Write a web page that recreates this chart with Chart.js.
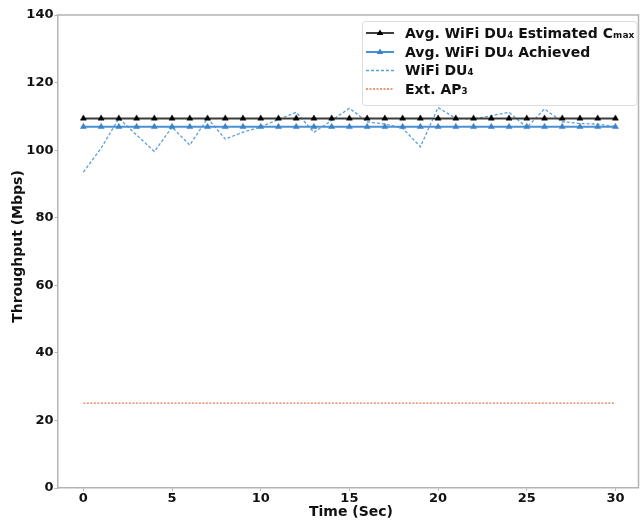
<!DOCTYPE html>
<html>
<head>
<meta charset="utf-8">
<script src="https://cdn.jsdelivr.net/npm/chart.js@4.4.1/dist/chart.umd.min.js"></script>
<style>
html,body{margin:0;padding:0;background:#fff;overflow:hidden;}
#wrap{position:relative;width:643px;height:523px;}
</style>
</head>
<body>
<div id="wrap"><canvas id="c"></canvas></div>
<script>
const timeSec = [0,1,2,3,4,5,6,7,8,9,10,11,12,13,14,15,16,17,18,19,20,21,22,23,24,25,26,27,28,29,30];
const avgEstCmax = [109.4,109.4,109.4,109.4,109.4,109.4,109.4,109.4,109.4,109.4,109.4,109.4,109.4,109.4,109.4,109.4,109.4,109.4,109.4,109.4,109.4,109.4,109.4,109.4,109.4,109.4,109.4,109.4,109.4,109.4,109.4];
const avgAchieved = [106.9,106.9,106.9,106.9,106.9,106.9,106.9,106.9,106.9,106.9,106.9,106.9,106.9,106.9,106.9,106.9,106.9,106.9,106.9,106.9,106.9,106.9,106.9,106.9,106.9,106.9,106.9,106.9,106.9,106.9,106.9];
const wifiDU4 = [93.5,100.6,109.4,104.5,99.6,106.8,101.5,109.4,103.3,105.3,106.9,109.1,111.2,105.3,108.8,112.4,108.4,107.7,106.5,101.0,112.6,109.4,109.2,110.2,111.2,106.7,112.2,108.4,107.9,107.7,106.9];
const extAP3 = [25.1,25.1,25.1,25.1,25.1,25.1,25.1,25.1,25.1,25.1,25.1,25.1,25.1,25.1,25.1,25.1,25.1,25.1,25.1,25.1,25.1,25.1,25.1,25.1,25.1,25.1,25.1,25.1,25.1,25.1,25.1];
const seriesLabels = ['Avg. WiFi DU\u2084 Estimated C\u2098\u2090\u2093','Avg. WiFi DU\u2084 Achieved','WiFi DU\u2084','Ext. AP\u2083'];
const xTickValues = [0,5,10,15,20,25,30];
const yTickValues = [0,20,40,60,80,100,120,140];
const xTitle = 'Time (Sec)';
const yTitle = 'Throughput (Mbps)';

const FONT = 'DejaVu Sans';
const pts = arr => timeSec.map((t,i)=>({x:t,y:arr[i]}));
const spine = '#b4b4b4';

const legendPlugin = {
  id:'customLegend',
  afterDraw(chart){
    const ctx = chart.ctx;
    ctx.save();
    const ca=chart.chartArea;
    // top and right spines
    ctx.strokeStyle=spine;ctx.lineWidth=1.5;
    ctx.beginPath();ctx.moveTo(ca.left,ca.top);ctx.lineTo(ca.right,ca.top);ctx.lineTo(ca.right,ca.bottom);ctx.stroke();
    // legend frame
    const bx=362.5, by=21.5, bw=274.5, bh=84;
    ctx.beginPath();
    ctx.roundRect(bx,by,bw,bh,3);
    ctx.fillStyle='rgba(255,255,255,0.85)';
    ctx.fill();
    ctx.strokeStyle='#dcdcdc';
    ctx.lineWidth=1;
    ctx.stroke();
    const rows=[33,52,70.5,89];
    chart.data.datasets.forEach((ds,i)=>{
      const y=rows[i];
      ctx.save();
      ctx.strokeStyle=ds.borderColor;
      ctx.lineWidth=ds.borderWidth;
      ctx.setLineDash(ds.borderDash||[]);
      ctx.beginPath();ctx.moveTo(366,y);ctx.lineTo(394,y);ctx.stroke();
      ctx.setLineDash([]);
      if(ds.pointRadius>0){
        ctx.fillStyle=ds.pointBackgroundColor;
        ctx.beginPath();
        const r=ds.pointRadius;
        ctx.moveTo(380,y-r);ctx.lineTo(380+r*0.95,y+r*0.6);ctx.lineTo(380-r*0.95,y+r*0.6);ctx.closePath();
        ctx.fill();
      }
      ctx.restore();
      ctx.fillStyle='#111';
      ctx.font='bold 14px "'+FONT+'"';
      ctx.textBaseline='middle';
      ctx.textAlign='left';
      ctx.fillText(ds.label,405,y+1);
    });
    // axis titles
    ctx.fillStyle='#111';
    ctx.font='bold 14px "'+FONT+'"';
    ctx.textAlign='center';
    ctx.textBaseline='middle';
    ctx.fillText(xTitle,351,512);
    ctx.save();
    ctx.translate(18.5,246.5);
    ctx.rotate(-Math.PI/2);
    ctx.fillText(yTitle,0,0);
    ctx.restore();
    ctx.restore();
  }
};

new Chart(document.getElementById('c'),{
  type:'line',
  data:{datasets:[
    {label:seriesLabels[0],data:pts(avgEstCmax),borderColor:'#3c3c3c',borderWidth:2,pointStyle:'triangle',pointRadius:3.5,pointBackgroundColor:'#000',pointBorderColor:'#000',pointBorderWidth:0.5,tension:0,order:1},
    {label:seriesLabels[1],data:pts(avgAchieved),borderColor:'#4a90d4',borderWidth:2,pointStyle:'triangle',pointRadius:3.5,pointBackgroundColor:'#3a83c8',pointBorderColor:'#3a83c8',pointBorderWidth:0.5,tension:0,order:2},
    {label:seriesLabels[2],data:pts(wifiDU4),borderColor:'#5b9fd8',borderWidth:1.3,borderDash:[3,2],pointRadius:0,tension:0,order:3},
    {label:seriesLabels[3],data:pts(extAP3),borderColor:'#e07a4c',borderWidth:1.3,borderDash:[2,1.5],pointRadius:0,tension:0,order:4}
  ]},
  options:{
    responsive:true,maintainAspectRatio:false,animation:false,
    layout:{padding:{left:0,right:1.5,top:15,bottom:0}},
    plugins:{legend:{display:false},tooltip:{enabled:false}},
    scales:{
      x:{type:'linear',min:-1.46,max:31.3,
        afterBuildTicks:s=>{s.ticks=xTickValues.map(v=>({value:v}));},
        afterFit:s=>{s.height=35;},
        grid:{drawOnChartArea:false,drawTicks:true,tickLength:3,tickColor:spine},
        border:{display:true,color:spine,width:1.5},
        ticks:{color:'#111',padding:0,font:{family:FONT,size:13,weight:'bold'},maxRotation:0}
      },
      y:{type:'linear',min:0,max:140,
        afterBuildTicks:s=>{s.ticks=yTickValues.map(v=>({value:v}));},
        afterFit:s=>{s.width=57.5;},
        grid:{drawOnChartArea:false,drawTicks:true,tickLength:3,tickColor:spine},
        border:{display:true,color:spine,width:1.5},
        ticks:{color:'#111',padding:1,font:{family:FONT,size:13,weight:'bold'}}
      }
    }
  },
  plugins:[legendPlugin]
});
</script>
</body>
</html>
